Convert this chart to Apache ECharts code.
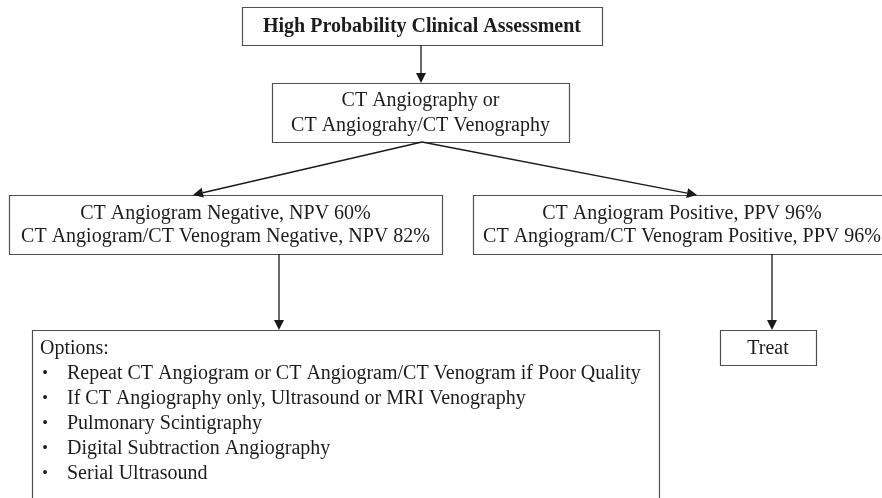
<!DOCTYPE html>
<html><head><meta charset="utf-8">
<script src="https://cdn.jsdelivr.net/npm/echarts@6/dist/echarts.min.js"></script>
<style>html,body{margin:0;padding:0;background:#fff}#c{width:882px;height:498px}</style>
</head><body><div id="c"></div>
<script>
// ---- content ----
const nodeIds = ['assess', 'ct', 'neg', 'pos', 'options', 'treat'];
const nodeLines = [
  ['High Probability Clinical Assessment'],
  ['CT Angiography or', 'CT Angiograhy/CT Venography'],
  ['CT Angiogram Negative, NPV 60%', 'CT Angiogram/CT Venogram Negative, NPV 82%'],
  ['CT Angiogram Positive, PPV 96%', 'CT Angiogram/CT Venogram Positive, PPV 96%'],
  ['Options:'],
  ['Treat']
];
const optionItems = [
  'Repeat CT Angiogram or CT Angiogram/CT Venogram if Poor Quality',
  'If CT Angiography only, Ultrasound or MRI Venography',
  'Pulmonary Scintigraphy',
  'Digital Subtraction Angiography',
  'Serial Ultrasound'
];
const edgeFrom = ['assess', 'ct', 'ct', 'neg', 'pos'];
const edgeTo   = ['ct', 'neg', 'pos', 'options', 'treat'];

// ---- layout (axis units, y downward) ----
const layout = {
  boxes: {
    assess:  [242, 7, 602, 45],
    ct:      [272, 83, 569, 142],
    neg:     [9, 195, 442, 254],
    pos:     [473, 195, 891, 254],
    options: [32, 330, 659, 520],
    treat:   [720, 330, 816, 365]
  },
  edges: [
    [421, 45, 421, 83],
    [422, 142, 193, 195],
    [422, 142, 697, 195],
    [279, 254, 279, 330],
    [772, 254, 772, 330]
  ],
  optionsFirstY: 349,
  optionsStep: 25,
  optionsTextX: 40,
  bulletX: 45,
  bulletTextX: 67
};

const FONT = "'Liberation Serif','Times New Roman',serif";
const TXT = '#1c1c1c';

const boxData = nodeIds.map((id, i) => layout.boxes[id].concat([i]));
const edgeData = edgeFrom.map((f, i) => layout.edges[i].concat([i]));

function renderBox(params, api) {
  const i = api.value(4);
  const p0 = api.coord([api.value(0), api.value(1)]);
  const p1 = api.coord([api.value(2), api.value(3)]);
  const x = Math.round(p0[0]) + 0.5, y = Math.round(p0[1]) + 0.5;
  const w = Math.round(p1[0] - p0[0]), h = Math.round(p1[1] - p0[1]);
  const children = [{
    type: 'rect',
    shape: { x: x, y: y, width: w, height: h },
    style: { fill: '#fff', stroke: '#505050', lineWidth: 1.2 }
  }];
  const id = nodeIds[i];
  if (id === 'options') {
    const tx = api.coord([layout.optionsTextX, 0])[0];
    children.push({
      type: 'text',
      style: { text: nodeLines[i][0], x: tx, y: api.coord([0, layout.optionsFirstY])[1],
        fill: TXT, fontSize: 20, fontFamily: FONT, align: 'left', verticalAlign: 'middle' }
    });
    optionItems.forEach((t, k) => {
      const yy = api.coord([0, layout.optionsFirstY + layout.optionsStep * (k + 1)])[1];
      children.push({ type: 'text', style: { text: '•', x: api.coord([layout.bulletX, 0])[0], y: yy,
        fill: TXT, fontSize: 16, fontFamily: FONT, align: 'center', verticalAlign: 'middle' } });
      children.push({ type: 'text', style: { text: t, x: api.coord([layout.bulletTextX, 0])[0], y: yy,
        fill: TXT, fontSize: 20, fontFamily: FONT, align: 'left', verticalAlign: 'middle' } });
    });
  } else {
    const cx = (p0[0] + p1[0]) / 2, cy = (p0[1] + p1[1]) / 2;
    const lh = id === 'ct' ? 25 : 23;
    children.push({
      type: 'text',
      style: { text: nodeLines[i].join('\n'), x: cx, y: cy + 1, fill: TXT,
        fontSize: 20, fontFamily: FONT, fontWeight: id === 'assess' ? 'bold' : 'normal',
        align: 'center', verticalAlign: 'middle', lineHeight: lh }
    });
  }
  return { type: 'group', children: children };
}

function renderEdge(params, api) {
  const a = api.coord([api.value(0), api.value(1)]);
  const b = api.coord([api.value(2), api.value(3)]);
  const dx = b[0] - a[0], dy = b[1] - a[1];
  const len = Math.sqrt(dx * dx + dy * dy);
  const ux = dx / len, uy = dy / len;
  const L = 10, W = 5;
  const bx = b[0] - ux * L, by = b[1] - uy * L;
  return {
    type: 'group',
    children: [
      { type: 'line', shape: { x1: a[0], y1: a[1], x2: bx, y2: by },
        style: { stroke: '#1a1a1a', lineWidth: 1.3 } },
      { type: 'polygon', shape: { points: [[b[0], b[1]], [bx - uy * W, by + ux * W], [bx + uy * W, by - ux * W]] },
        style: { fill: '#1a1a1a' } }
    ]
  };
}

const chart = echarts.init(document.getElementById('c'), null, { renderer: 'canvas' });
chart.setOption({
  backgroundColor: '#fff',
  animation: false,
  grid: { left: 0, right: 0, top: 0, bottom: 0 },
  xAxis: { type: 'value', min: 0, max: 882, show: false },
  yAxis: { type: 'value', min: 0, max: 498, inverse: true, show: false },
  series: [
    { type: 'custom', renderItem: renderBox, data: boxData, encode: { x: [0, 2], y: [1, 3] }, clip: false, z: 2 },
    { type: 'custom', renderItem: renderEdge, data: edgeData, encode: { x: [0, 2], y: [1, 3] }, clip: false, z: 3 }
  ]
});
</script></body></html>
